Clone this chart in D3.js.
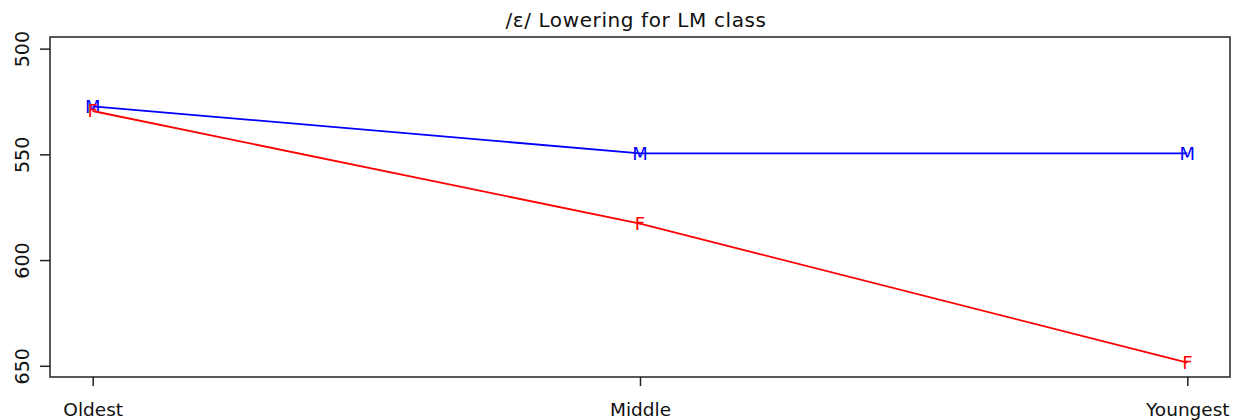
<!DOCTYPE html>
<html>
<head>
<meta charset="utf-8">
<script src="https://cdn.jsdelivr.net/npm/d3@7"></script>
<style>
  body { margin: 0; background: #fff; }
  svg { display: block; font-family: "DejaVu Sans", sans-serif; }
</style>
</head>
<body>
<div id="chart"></div>
<script>
// dati
const groups = ["Oldest", "Middle", "Youngest"];
const maleValues = [527.3, 549.5, 549.5];
const femaleValues = [529.5, 582.8, 648.5];
const yTicks = [500, 550, 600, 650];
const title = "/\u025B/ Lowering for LM class";

const width = 1233;
const height = 420;
const box = { left: 50, right: 1230, top: 37, bottom: 377 };

const svg = d3.select("#chart")
  .append("svg")
  .attr("width", width)
  .attr("height", height);

const x = d3.scalePoint()
  .domain(groups)
  .range([box.left, box.right])
  .padding(0.078);

// asse y invertito: 500 in alto
const y = d3.scaleLinear()
  .domain([494.5, 655.3])
  .range([box.top, box.bottom]);

// titolo
svg.append("text")
  .attr("x", 636)
  .attr("y", 27)
  .attr("text-anchor", "middle")
  .attr("font-size", 20)
  .attr("letter-spacing", 0.6)
  .attr("fill", "#111")
  .text(title);

// asse y
const yAxis = svg.append("g")
  .attr("transform", `translate(${box.left},0)`)
  .call(d3.axisLeft(y).tickValues(yTicks).tickSize(10).tickFormat(d3.format("d")));
yAxis.select(".domain").remove();
yAxis.selectAll("line").attr("stroke", "#222").attr("stroke-width", 1.5);
yAxis.selectAll("text")
  .attr("transform", "rotate(-90)")
  .attr("x", 0)
  .attr("y", -21)
  .attr("dy", 0)
  .attr("text-anchor", "middle")
  .attr("font-size", 19)
  .attr("font-family", "DejaVu Sans, sans-serif")
  .attr("fill", "#111");

// asse x
const xAxis = svg.append("g")
  .attr("transform", `translate(0,${box.bottom})`)
  .call(d3.axisBottom(x).tickSize(9));
xAxis.select(".domain").remove();
xAxis.selectAll("line").attr("stroke", "#222").attr("stroke-width", 1.5);
xAxis.selectAll("text")
  .attr("y", 39)
  .attr("dy", 0)
  .attr("font-size", 18.5)
  .attr("font-family", "DejaVu Sans, sans-serif")
  .attr("fill", "#111");

// cornice
svg.append("rect")
  .attr("x", box.left)
  .attr("y", box.top)
  .attr("width", box.right - box.left)
  .attr("height", box.bottom - box.top)
  .attr("fill", "none")
  .attr("stroke", "#222")
  .attr("stroke-width", 1.5);

const series = [
  { label: "M", color: "#0000ff", values: maleValues },
  { label: "F", color: "#ff0000", values: femaleValues }
];

const line = d3.line()
  .x((d, i) => x(groups[i]))
  .y(d => y(d));

series.forEach(s => {
  svg.append("path")
    .datum(s.values)
    .attr("d", line)
    .attr("fill", "none")
    .attr("stroke", s.color)
    .attr("stroke-width", 1.8);

  svg.selectAll(null)
    .data(s.values)
    .join("text")
    .attr("x", (d, i) => x(groups[i]))
    .attr("y", d => y(d))
    .attr("dy", "0.36em")
    .attr("text-anchor", "middle")
    .attr("font-size", 18)
    .attr("fill", s.color)
    .text(s.label);
});
</script>
</body>
</html>
